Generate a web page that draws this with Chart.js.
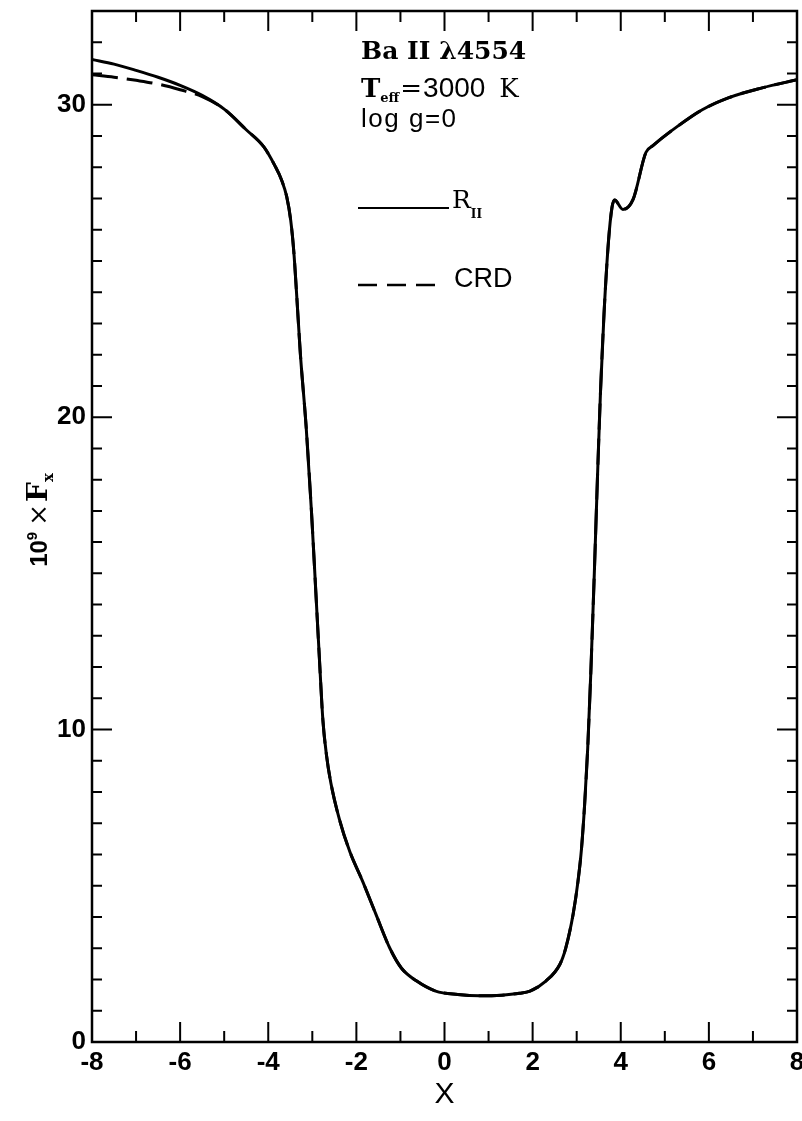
<!DOCTYPE html>
<html lang="en">
<head>
<meta charset="UTF-8">
<title>Ba II 4554 line profile</title>
<script src="https://cdn.jsdelivr.net/npm/chart.js"></script>
<style>
  body { margin: 0; background: #fff; }
  canvas { display: block; }
</style>
</head>
<body>
<canvas id="profile" width="802" height="1121"></canvas>
<script>
// frequency displacement X and emergent flux (10^9 x F_x), partial redistribution R_II
const xR2 = [-8.0, -7.5, -7.0, -6.5, -6.0, -5.5, -5.0, -4.5, -4.1, -3.85, -3.70, -3.58, -3.49, -3.42, -3.35, -3.27,
  -3.14, -3.02, -2.92, -2.84, -2.76, -2.68, -2.58, -2.38, -2.15, -1.86, -1.56, -1.24, -0.98, -0.63, -0.20,
  0.3, 0.8, 1.3, 1.7, 1.94, 2.30, 2.62, 2.75, 2.92, 3.03, 3.11, 3.18, 3.25, 3.32, 3.40, 3.47, 3.54, 3.62,
  3.72, 3.80, 3.86, 4.05, 4.28, 4.57, 4.73, 5.31, 5.85, 6.44, 7.21, 8.0];
const fluxR2 = [31.45, 31.30, 31.10, 30.88, 30.62, 30.30, 29.86, 29.20, 28.65, 28.05, 27.6, 27.05, 26.3, 25.3, 23.8, 22.0,
  19.7, 17.0, 14.4, 12.3, 10.3, 9.2, 8.3, 7.1, 6.1, 5.15, 4.1, 3.0, 2.37, 1.95, 1.63,
  1.52, 1.48, 1.50, 1.56, 1.63, 1.95, 2.49, 3.0, 4.1, 5.15, 6.2, 7.6, 9.4, 11.8, 15.0, 18.0, 20.8, 23.3,
  25.6, 26.7, 26.95, 26.65, 26.97, 28.47, 28.69, 29.33, 29.84, 30.22, 30.54, 30.8];

// complete redistribution: differs only in the far blue wing
const xCRD = [-8.0, -7.5, -7.0, -6.5, -6.0, -5.5, -5.0, -4.5, -4.1, -3.85, -3.70, -3.58, -3.49, -3.42, -3.35, -3.27,
  -3.14, -3.02, -2.92, -2.84, -2.76, -2.68, -2.58, -2.38, -2.15, -1.86, -1.56, -1.24, -0.98, -0.63, -0.20,
  0.3, 0.8, 1.3, 1.7, 1.94, 2.30, 2.62, 2.75, 2.92, 3.03, 3.11, 3.18, 3.25, 3.32, 3.40, 3.47, 3.54, 3.62,
  3.72, 3.80, 3.86, 4.05, 4.28, 4.57, 4.73, 5.31, 5.85, 6.44, 7.21, 8.0];
const fluxCRD = [30.96, 30.88, 30.78, 30.66, 30.48, 30.26, 29.86, 29.20, 28.65, 28.05, 27.6, 27.05, 26.3, 25.3, 23.8, 22.0,
  19.7, 17.0, 14.4, 12.3, 10.3, 9.2, 8.3, 7.1, 6.1, 5.15, 4.1, 3.0, 2.37, 1.95, 1.63,
  1.52, 1.48, 1.50, 1.56, 1.63, 1.95, 2.49, 3.0, 4.1, 5.15, 6.2, 7.6, 9.4, 11.8, 15.0, 18.0, 20.8, 23.3,
  25.6, 26.7, 26.95, 26.65, 26.97, 28.47, 28.69, 29.33, 29.84, 30.22, 30.54, 30.8];

const xTicks = [-8, -6, -4, -2, 0, 2, 4, 6, 8];
const yTicks = [0, 10, 20, 30];

const toPoints = (xs, ys) => xs.map((x, i) => ({ x: x, y: ys[i] }));

// draws a row of text pieces with their own fonts and baseline shifts
function textRuns(ctx, runs, measureOnly) {
  let w = 0;
  for (const r of runs) {
    ctx.font = r.font;
    if (!measureOnly) ctx.fillText(r.text, w, r.dy || 0);
    w += ctx.measureText(r.text).width + (r.gap || 0);
  }
  return w;
}

// closed box with inward ticks on all four sides
const frameTicks = {
  id: 'frameTicks',
  afterDraw(chart) {
    const { ctx, chartArea: a, scales: { x, y } } = chart;
    ctx.save();
    ctx.strokeStyle = '#000';
    ctx.lineWidth = 2.5;
    ctx.strokeRect(a.left, a.top, a.right - a.left, a.bottom - a.top);
    ctx.lineWidth = 2;
    ctx.beginPath();
    for (let v = x.min; v <= x.max; v++) {
      const px = x.getPixelForValue(v);
      const len = v % 2 === 0 ? 20 : 11;
      ctx.moveTo(px, a.bottom); ctx.lineTo(px, a.bottom - len);
      ctx.moveTo(px, a.top); ctx.lineTo(px, a.top + len);
    }
    for (let v = y.min; v <= y.max; v++) {
      const py = y.getPixelForValue(v);
      const len = v % 10 === 0 ? 20 : 10;
      ctx.moveTo(a.left, py); ctx.lineTo(a.left + len, py);
      ctx.moveTo(a.right, py); ctx.lineTo(a.right - len, py);
    }
    ctx.stroke();
    ctx.restore();
  }
};

// model labels, line key and the flux axis title
const labels = {
  id: 'labels',
  afterDraw(chart) {
    const ctx = chart.ctx;
    const serif = '"DejaVu Serif"';
    const sans = '"Liberation Sans"';
    ctx.save();
    ctx.fillStyle = '#000';
    ctx.textBaseline = 'alphabetic';
    ctx.textAlign = 'left';

    ctx.save();
    ctx.translate(361, 59);
    textRuns(ctx, [{ text: 'Ba II λ4554', font: 'bold 25px ' + serif }]);
    ctx.restore();

    ctx.save();
    ctx.translate(361, 97);
    textRuns(ctx, [
      { text: 'T', font: 'bold 26px ' + serif },
      { text: 'eff', font: 'bold 13px ' + serif, dy: 5, gap: 1 },
      { text: '=', font: '26px ' + serif, gap: 1 },
      { text: '3000', font: '28px ' + sans, gap: 14 },
      { text: 'K', font: '26px ' + serif }
    ]);
    ctx.restore();

    ctx.save();
    ctx.font = '26px ' + sans;
    ctx.letterSpacing = '1.5px';
    ctx.fillText('log g=0', 361, 127);
    ctx.restore();

    // key: solid and dashed samples
    ctx.strokeStyle = '#000';
    ctx.lineWidth = 2;
    ctx.beginPath();
    ctx.moveTo(358, 208); ctx.lineTo(449, 208);
    ctx.stroke();
    ctx.save();
    ctx.translate(452, 208);
    textRuns(ctx, [
      { text: 'R', font: '25px ' + serif },
      { text: 'II', font: 'bold 12px ' + serif, dy: 10 }
    ]);
    ctx.restore();

    ctx.lineWidth = 2.5;
    ctx.setLineDash([19, 10]);
    ctx.beginPath();
    ctx.moveTo(358, 285); ctx.lineTo(438, 285);
    ctx.stroke();
    ctx.setLineDash([]);
    ctx.font = '27px ' + sans;
    ctx.fillText('CRD', 454, 287);

    // rotated y title: 10^9 x F_x
    const title = [
      { text: '10', font: 'bold 24px ' + sans },
      { text: '9', font: 'bold 15px ' + sans, dy: -10, gap: 6 },
      { text: '\u00d7', font: '26px ' + serif, gap: 2 },
      { text: 'F', font: 'bold 28px ' + serif },
      { text: 'x', font: 'bold 15px ' + serif, dy: 6 }
    ];
    ctx.translate(47, 520);
    ctx.rotate(-Math.PI / 2);
    const w = textRuns(ctx, title, true);
    ctx.translate(-w / 2, 0);
    textRuns(ctx, title);
    ctx.restore();
  }
};

const lineStyle = {
  showLine: true,
  borderColor: '#000',
  borderWidth: 3,
  pointRadius: 0,
  fill: false,
  cubicInterpolationMode: 'monotone'
};

new Chart(document.getElementById('profile'), {
  type: 'scatter',
  data: {
    datasets: [
      Object.assign({ label: 'CRD', data: toPoints(xCRD, fluxCRD), borderDash: [26, 9] }, lineStyle),
      Object.assign({ label: 'R_II', data: toPoints(xR2, fluxR2) }, lineStyle)
    ]
  },
  options: {
    responsive: false,
    animation: false,
    layout: { padding: { top: 11, right: 5, left: 0, bottom: 0 } },
    plugins: { legend: { display: false }, tooltip: { enabled: false } },
    scales: {
      x: {
        type: 'linear',
        min: -8,
        max: 8,
        grid: { display: false, drawTicks: false },
        border: { display: false },
        afterBuildTicks: s => { s.ticks = xTicks.map(v => ({ value: v })); },
        afterFit: s => { s.height = 79; s.paddingLeft = 0; s.paddingRight = 0; },
        ticks: {
          color: '#000',
          padding: 5,
          autoSkip: false,
          maxRotation: 0,
          font: { family: 'Liberation Sans', size: 26, weight: 'bold' }
        },
        title: {
          display: true,
          text: 'X',
          color: '#000',
          font: { family: 'Liberation Sans', size: 30 },
          padding: { top: 0, bottom: 8 }
        }
      },
      y: {
        type: 'linear',
        min: 0,
        max: 33,
        grid: { display: false, drawTicks: false },
        border: { display: false },
        afterBuildTicks: s => { s.ticks = yTicks.map(v => ({ value: v })); },
        afterFit: s => { s.width = 92; s.paddingTop = 0; s.paddingBottom = 0; },
        ticks: {
          color: '#000',
          padding: 6,
          font: { family: 'Liberation Sans', size: 26, weight: 'bold' }
        }
      }
    }
  },
  plugins: [frameTicks, labels]
});
</script>
</body>
</html>
